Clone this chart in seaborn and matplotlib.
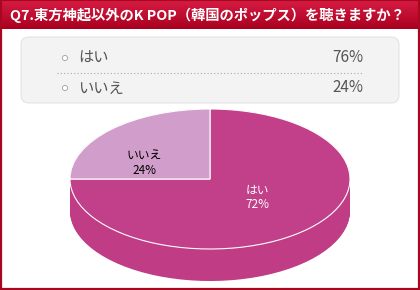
import numpy as np
import matplotlib.pyplot as plt
from matplotlib.patches import FancyBboxPatch, Circle, Rectangle
from matplotlib.colors import LinearSegmentedColormap
import seaborn as sns

# data
title = "Q7.東方神起以外のK POP（韓国のポップス）を聴きますか？"
answers = ["はい", "いいえ"]
list_pct = [76, 24]   # numbers in the list box
pie_pct = [72, 24]    # numbers printed on the pie
pie_colors = ["#C2408A", "#D19DCA"]
side_color = "#C03D86"

sns.set_theme(style="white")
plt.rcParams["font.family"] = ["Noto Sans CJK JP", "DejaVu Sans"]

W, H = 420, 290
fig = plt.figure(figsize=(W / 100, H / 100), dpi=100, facecolor="white")

# background axes in pixel units (y grows downward)
bg = fig.add_axes([0, 0, 1, 1])

# red header with a vertical gradient
hdr = LinearSegmentedColormap.from_list("hdr", ["#D81C44", "#A9001F"])
bg.imshow(np.linspace(0, 1, 60).reshape(-1, 1), cmap=hdr, extent=(0, W, 29, 0), aspect="auto")
bg.text(10, 15, title, color="white", fontsize=10.3, fontweight="bold", va="center", ha="left")

# frame
bg.add_patch(Rectangle((1, 0), W - 2, H - 1, fill=False, ec="#A8081F", lw=1.6))

# list box
bg.add_patch(FancyBboxPatch((21, 37), 378, 66, boxstyle="round,pad=0,rounding_size=8",
                            fc="#F3F3F3", ec="#E3E3E3", lw=0.8))
for i, (lab, p) in enumerate(zip(answers, list_pct)):
    y = 58 + 30 * i
    bg.add_patch(Circle((65, y), 2.6, fc="white", ec="#A8A8A8", lw=0.7))
    bg.text(78, y, lab, fontsize=11, color="#555555", va="center", ha="left")
    bg.text(363, y, f"{p}%", fontsize=11, color="#555555", va="center", ha="right")
bg.plot([57, 363], [73, 73], color="#AAAAAA", ls=(0, (1, 2)), lw=0.8)

bg.set_xlim(0, W)
bg.set_ylim(H, 0)
bg.axis("off")

# 3D-looking pie: stack of ellipses for the side, then the top face
cx, cy, rx, ry, depth = 210, 179, 140, 70, 32
d = depth / ry
mx, my = 1.03, 0.04
left_px = cx - mx * rx
top_px = cy - (1 + my) * ry
bot_px = cy + (1 + d + my) * ry
ax = fig.add_axes([left_px / W, 1 - bot_px / H, 2 * mx * rx / W, (bot_px - top_px) / H])

for t in np.linspace(d, 0, 45):
    ax.pie(pie_pct, colors=[side_color, side_color], center=(0, -t), startangle=90,
           counterclock=False, wedgeprops=dict(linewidth=0))
ax.pie(pie_pct, colors=pie_colors, startangle=90, counterclock=False,
       wedgeprops=dict(edgecolor="white", linewidth=0.8))

ax.text(0.34, -0.26, f"{answers[0]}\n{pie_pct[0]}%", color="white", fontsize=8.5,
        ha="center", va="center", linespacing=1.15)
ax.text(-0.47, 0.23, f"{answers[1]}\n{pie_pct[1]}%", color="black", fontsize=8.5,
        ha="center", va="center", linespacing=1.15)

ax.set_aspect("auto")
ax.set_xlim(-mx, mx)
ax.set_ylim(-1 - d - my, 1 + my)
ax.axis("off")

fig.savefig("out.png", dpi=100)
